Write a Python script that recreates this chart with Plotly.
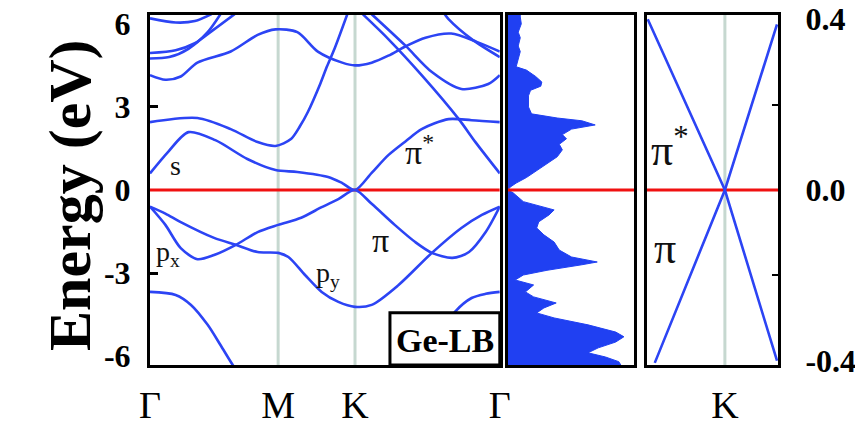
import plotly.graph_objects as go

# ---------------- data ----------------
# high-symmetry path positions (Γ-M-K-Γ)
k_ticks = [0.0, 1.0, 1.6, 2.73]
k_labels = ["Γ", "M", "K", "Γ"]

# valence bands
pi_k = [0, 0.12, 0.24, 0.37, 0.5, 0.67, 0.84, 1.0, 1.18, 1.34, 1.47, 1.6, 1.73, 1.91, 2.07, 2.2, 2.36, 2.49, 2.62, 2.73]
pi_E = [-0.6, -1.26, -2.1, -2.5, -2.35, -1.98, -1.52, -1.26, -1.0, -0.62, -0.33, 0.0, -0.5, -1.26, -1.88, -2.27, -2.45, -2.24, -1.52, -0.6]

p_k = [0, 0.12, 0.24, 0.5, 0.67, 0.84, 1.0, 1.08, 1.21, 1.34, 1.47, 1.6, 1.73, 1.94, 2.2, 2.43, 2.59, 2.73]
p_E = [-0.6, -0.85, -1.16, -1.73, -1.98, -2.24, -2.27, -2.42, -3.07, -3.68, -4.04, -4.22, -4.15, -3.43, -2.27, -1.37, -0.9, -0.6]

deep_k = [0, 0.2, 0.32, 0.45, 0.55, 0.65, 0.75, 2.05, 2.15, 2.25, 2.38, 2.51, 2.62, 2.73]
deep_E = [-3.68, -3.79, -4.15, -4.87, -5.6, -6.35, -7.0, -7.0, -6.35, -5.3, -4.4, -3.9, -3.75, -3.68]

# conduction bands
s_k = [0, 0.14, 0.3, 0.51, 0.76, 0.98, 1.15, 1.39, 1.5, 1.6, 1.73, 1.86, 2.0, 2.12, 2.33, 2.51, 2.73]
s_E = [0.6, 1.37, 2.09, 1.8, 1.12, 0.72, 0.65, 0.47, 0.25, 0.0, 0.62, 1.26, 1.78, 2.2, 2.56, 2.52, 2.45]

c2_k = [0, 0.37, 0.63, 0.84, 0.98, 1.1, 1.17, 1.23, 1.33, 1.38, 1.44, 1.54]
c2_E = [2.45, 2.6, 2.2, 1.73, 1.59, 1.84, 2.3, 2.8, 3.85, 4.45, 5.1, 6.35]

c3_k = [1.66, 1.86, 2.12, 2.41, 2.54, 2.73]
c3_E = [6.35, 5.45, 4.15, 2.56, 1.73, 0.6]

c4_k = [0, 0.12, 0.24, 0.37, 0.63, 0.84, 0.98, 1.15, 1.31, 1.5, 1.6, 1.73, 1.86, 2.0, 2.15, 2.35, 2.55, 2.73]
c4_E = [4.15, 3.98, 4.1, 4.6, 5.0, 5.6, 5.8, 5.7, 5.0, 4.6, 4.5, 4.6, 4.85, 5.2, 5.5, 5.65, 5.35, 5.0]

c5_k = [0, 0.15, 0.3, 0.45, 0.55]
c5_E = [4.75, 4.8, 5.1, 5.7, 6.35]

c6_k = [0, 0.2, 0.35, 0.5, 0.66]
c6_E = [4.95, 5.05, 5.3, 5.8, 6.35]

c7_k = [0, 0.2, 0.35, 0.48]
c7_E = [6.2, 6.05, 6.1, 6.35]

c8_k = [1.73, 1.99, 2.2, 2.43, 2.64, 2.73]
c8_E = [6.35, 5.23, 4.26, 3.65, 3.83, 4.15]

c9_k = [2.3, 2.33, 2.51, 2.73]
c9_E = [6.35, 6.17, 5.45, 4.8]

# density of states (arb. units)
dos_E = [6.32, 6.25, 6.0, 5.7, 5.5, 5.2, 5.0, 4.7, 4.45, 4.33, 4.1, 3.9, 3.75, 3.6, 3.4, 3.0, 2.75, 2.6, 2.5,
         2.35, 2.2, 2.0, 1.85, 1.65, 1.45, 1.2, 0.95, 0.7, 0.45, 0.25, 0.1, 0.0, -0.1, -0.42, -0.6, -0.72,
         -0.9, -1.15, -1.37, -1.62, -1.88, -2.17, -2.42, -2.6, -2.7, -2.9, -3.07, -3.25, -3.43, -3.68, -3.86,
         -4.08, -4.26, -4.44, -4.62, -4.87, -5.13, -5.3, -5.49, -5.7, -5.88, -6.03, -6.2, -6.32]
dos_val = [0.12, 0.12, 0.13, 0.10, 0.12, 0.10, 0.12, 0.10, 0.08, 0.18, 0.27, 0.33, 0.32, 0.22, 0.20, 0.20, 0.23,
           0.48, 0.72, 0.85, 0.62, 0.53, 0.57, 0.50, 0.53, 0.48, 0.38, 0.28, 0.18, 0.08, 0.02, 0.0, 0.05, 0.15,
           0.32, 0.45, 0.40, 0.30, 0.28, 0.35, 0.45, 0.50, 0.62, 0.87, 0.72, 0.38, 0.15, 0.07, 0.25, 0.17, 0.25,
           0.47, 0.35, 0.28, 0.45, 0.78, 1.05, 1.13, 1.05, 0.88, 0.78, 0.95, 1.08, 1.10]

# Dirac cone near K (zoom)
cone1_k = [-0.077, 0.0, 0.052]
cone1_E = [0.40, 0.0, -0.40]
cone2_k = [-0.070, 0.0, 0.052]
cone2_E = [-0.405, 0.0, 0.388]

# ---------------- styling ----------------
BLUE = "#2c44f4"
DOS_BLUE = "#2040f2"
RED = "#f01010"
GUIDE = "#c6d8d0"
SERIF = "Liberation Serif"
LW = 2.6

fig = go.Figure()

bands = [(pi_k, pi_E), (p_k, p_E), (deep_k, deep_E), (s_k, s_E), (c2_k, c2_E), (c3_k, c3_E),
         (c4_k, c4_E), (c5_k, c5_E), (c6_k, c6_E), (c7_k, c7_E), (c8_k, c8_E), (c9_k, c9_E)]

# Fermi level lines (drawn first, under bands)
fig.add_trace(go.Scatter(x=[k_ticks[0], k_ticks[-1]], y=[0, 0], mode="lines",
                         line=dict(color=RED, width=3), xaxis="x", yaxis="y", hoverinfo="skip"))
for kk, ee in bands:
    fig.add_trace(go.Scatter(x=kk, y=ee, mode="lines", line=dict(color=BLUE, width=LW, shape="spline", smoothing=0.8),
                             xaxis="x", yaxis="y", hoverinfo="skip"))

fig.add_trace(go.Scatter(x=dos_val, y=dos_E, mode="lines", fill="tozerox", fillcolor=DOS_BLUE,
                         line=dict(color=DOS_BLUE, width=1), xaxis="x2", yaxis="y2", hoverinfo="skip"))
fig.add_trace(go.Scatter(x=[0, 1.23], y=[0, 0], mode="lines", line=dict(color=RED, width=3),
                         xaxis="x2", yaxis="y2", hoverinfo="skip"))

fig.add_trace(go.Scatter(x=[-0.078, 0.053], y=[0, 0], mode="lines", line=dict(color=RED, width=3),
                         xaxis="x3", yaxis="y3", hoverinfo="skip"))
for kk, ee in [(cone1_k, cone1_E), (cone2_k, cone2_E)]:
    fig.add_trace(go.Scatter(x=kk, y=ee, mode="lines", line=dict(color=BLUE, width=LW),
                             xaxis="x3", yaxis="y3", hoverinfo="skip"))

# vertical guides at M, K (below traces)
shapes = []
for kv in k_ticks[1:3]:
    shapes.append(dict(type="line", xref="x", yref="y domain", x0=kv, x1=kv, y0=0, y1=1,
                       line=dict(color=GUIDE, width=3), layer="below"))
shapes.append(dict(type="line", xref="x3", yref="y3 domain", x0=0, x1=0, y0=0, y1=1,
                   line=dict(color=GUIDE, width=3), layer="below"))
# label box
shapes.append(dict(type="rect", xref="x domain", yref="y domain", x0=0.686, x1=1.0, y0=0.0, y1=0.149,
                   line=dict(color="black", width=3), fillcolor="white", layer="above"))

axis_common = dict(showgrid=False, zeroline=False, showline=True, linecolor="black", linewidth=3,
                   mirror=True, automargin=False)

ann_font = dict(family=SERIF, color="#111111")
annotations = [
    dict(text="<b>Ge-LB</b>", x=2.3, y=-5.45, xref="x", yref="y", showarrow=False,
         font=dict(family=SERIF, size=34, color="black")),
    dict(text="s", x=0.2, y=0.9, xref="x", yref="y", showarrow=False, font=dict(size=28, **ann_font)),
    dict(text="p<sub>x</sub>", x=0.14, y=-2.3, xref="x", yref="y", showarrow=False, font=dict(size=28, **ann_font)),
    dict(text="p<sub>y</sub>", x=1.39, y=-3.05, xref="x", yref="y", showarrow=False, font=dict(size=28, **ann_font)),
    dict(text="π", x=1.8, y=-1.84, xref="x", yref="y", showarrow=False, font=dict(size=34, **ann_font)),
    dict(text="π<sup>*</sup>", x=2.1, y=1.45, xref="x", yref="y", showarrow=False, font=dict(size=34, **ann_font)),
    dict(text="π<sup>*</sup>", x=-0.055, y=0.10, xref="x3", yref="y3", showarrow=False, font=dict(size=44, **ann_font)),
    dict(text="π", x=-0.06, y=-0.136, xref="x3", yref="y3", showarrow=False, font=dict(size=44, **ann_font)),
    dict(text="<b>Energy (eV)</b>", xref="paper", yref="paper", x=-0.183, y=0.486, textangle=-90, showarrow=False,
         font=dict(family=SERIF, size=60, color="black")),
]

fig.update_layout(
    width=855, height=428,
    margin=dict(l=150, r=77, t=15, b=63, autoexpand=False),
    paper_bgcolor="white", plot_bgcolor="white",
    showlegend=False,
    shapes=shapes,
    annotations=annotations,
    xaxis=dict(domain=[0, 0.557], range=[k_ticks[0], k_ticks[-1]], tickvals=k_ticks, ticktext=k_labels,
               ticks="", tickfont=dict(family=SERIF, size=38, color="black"), ticklabelstandoff=4, **axis_common),
    yaxis=dict(range=[-6.32, 6.32], tickvals=[6, 3, 0, -3, -6], ticktext=["<b>6</b>", "<b>3</b>", "<b>0</b>", "<b>-3</b>", "<b>-6</b>"], ticks="",
               tickfont=dict(family=SERIF, size=32, color="black"), ticklabelstandoff=10,
               minor=dict(tickvals=[-3, 3], ticks="inside", ticklen=8, tickwidth=3, tickcolor="black"),
               **axis_common),
    xaxis2=dict(domain=[0.570, 0.771], range=[0, 1.23], showticklabels=False, ticks="", **axis_common),
    yaxis2=dict(anchor="x2", range=[-6.32, 6.32], showticklabels=False, ticks="", **axis_common),
    xaxis3=dict(domain=[0.791, 1.0], range=[-0.078, 0.053], tickvals=[0], ticktext=["K"], ticks="",
                tickfont=dict(family=SERIF, size=38, color="black"), ticklabelstandoff=4, **axis_common),
    yaxis3=dict(anchor="x3", side="right", range=[-0.41, 0.41], tickvals=[0.4, 0.0, -0.4],
                ticktext=["<b>0.4</b>", "<b>0.0</b>", "<b>-0.4</b>"], ticks="",
                tickfont=dict(family=SERIF, size=32, color="black"), ticklabelstandoff=18,
                minor=dict(tickvals=[-0.2, 0.2], ticks="inside", ticklen=6, tickwidth=2, tickcolor="black"),
                **axis_common),
)

fig.write_html("out.html", config={"displayModeBar": False},
               post_script="document.body.style.margin='0';document.body.style.overflow='hidden';")
